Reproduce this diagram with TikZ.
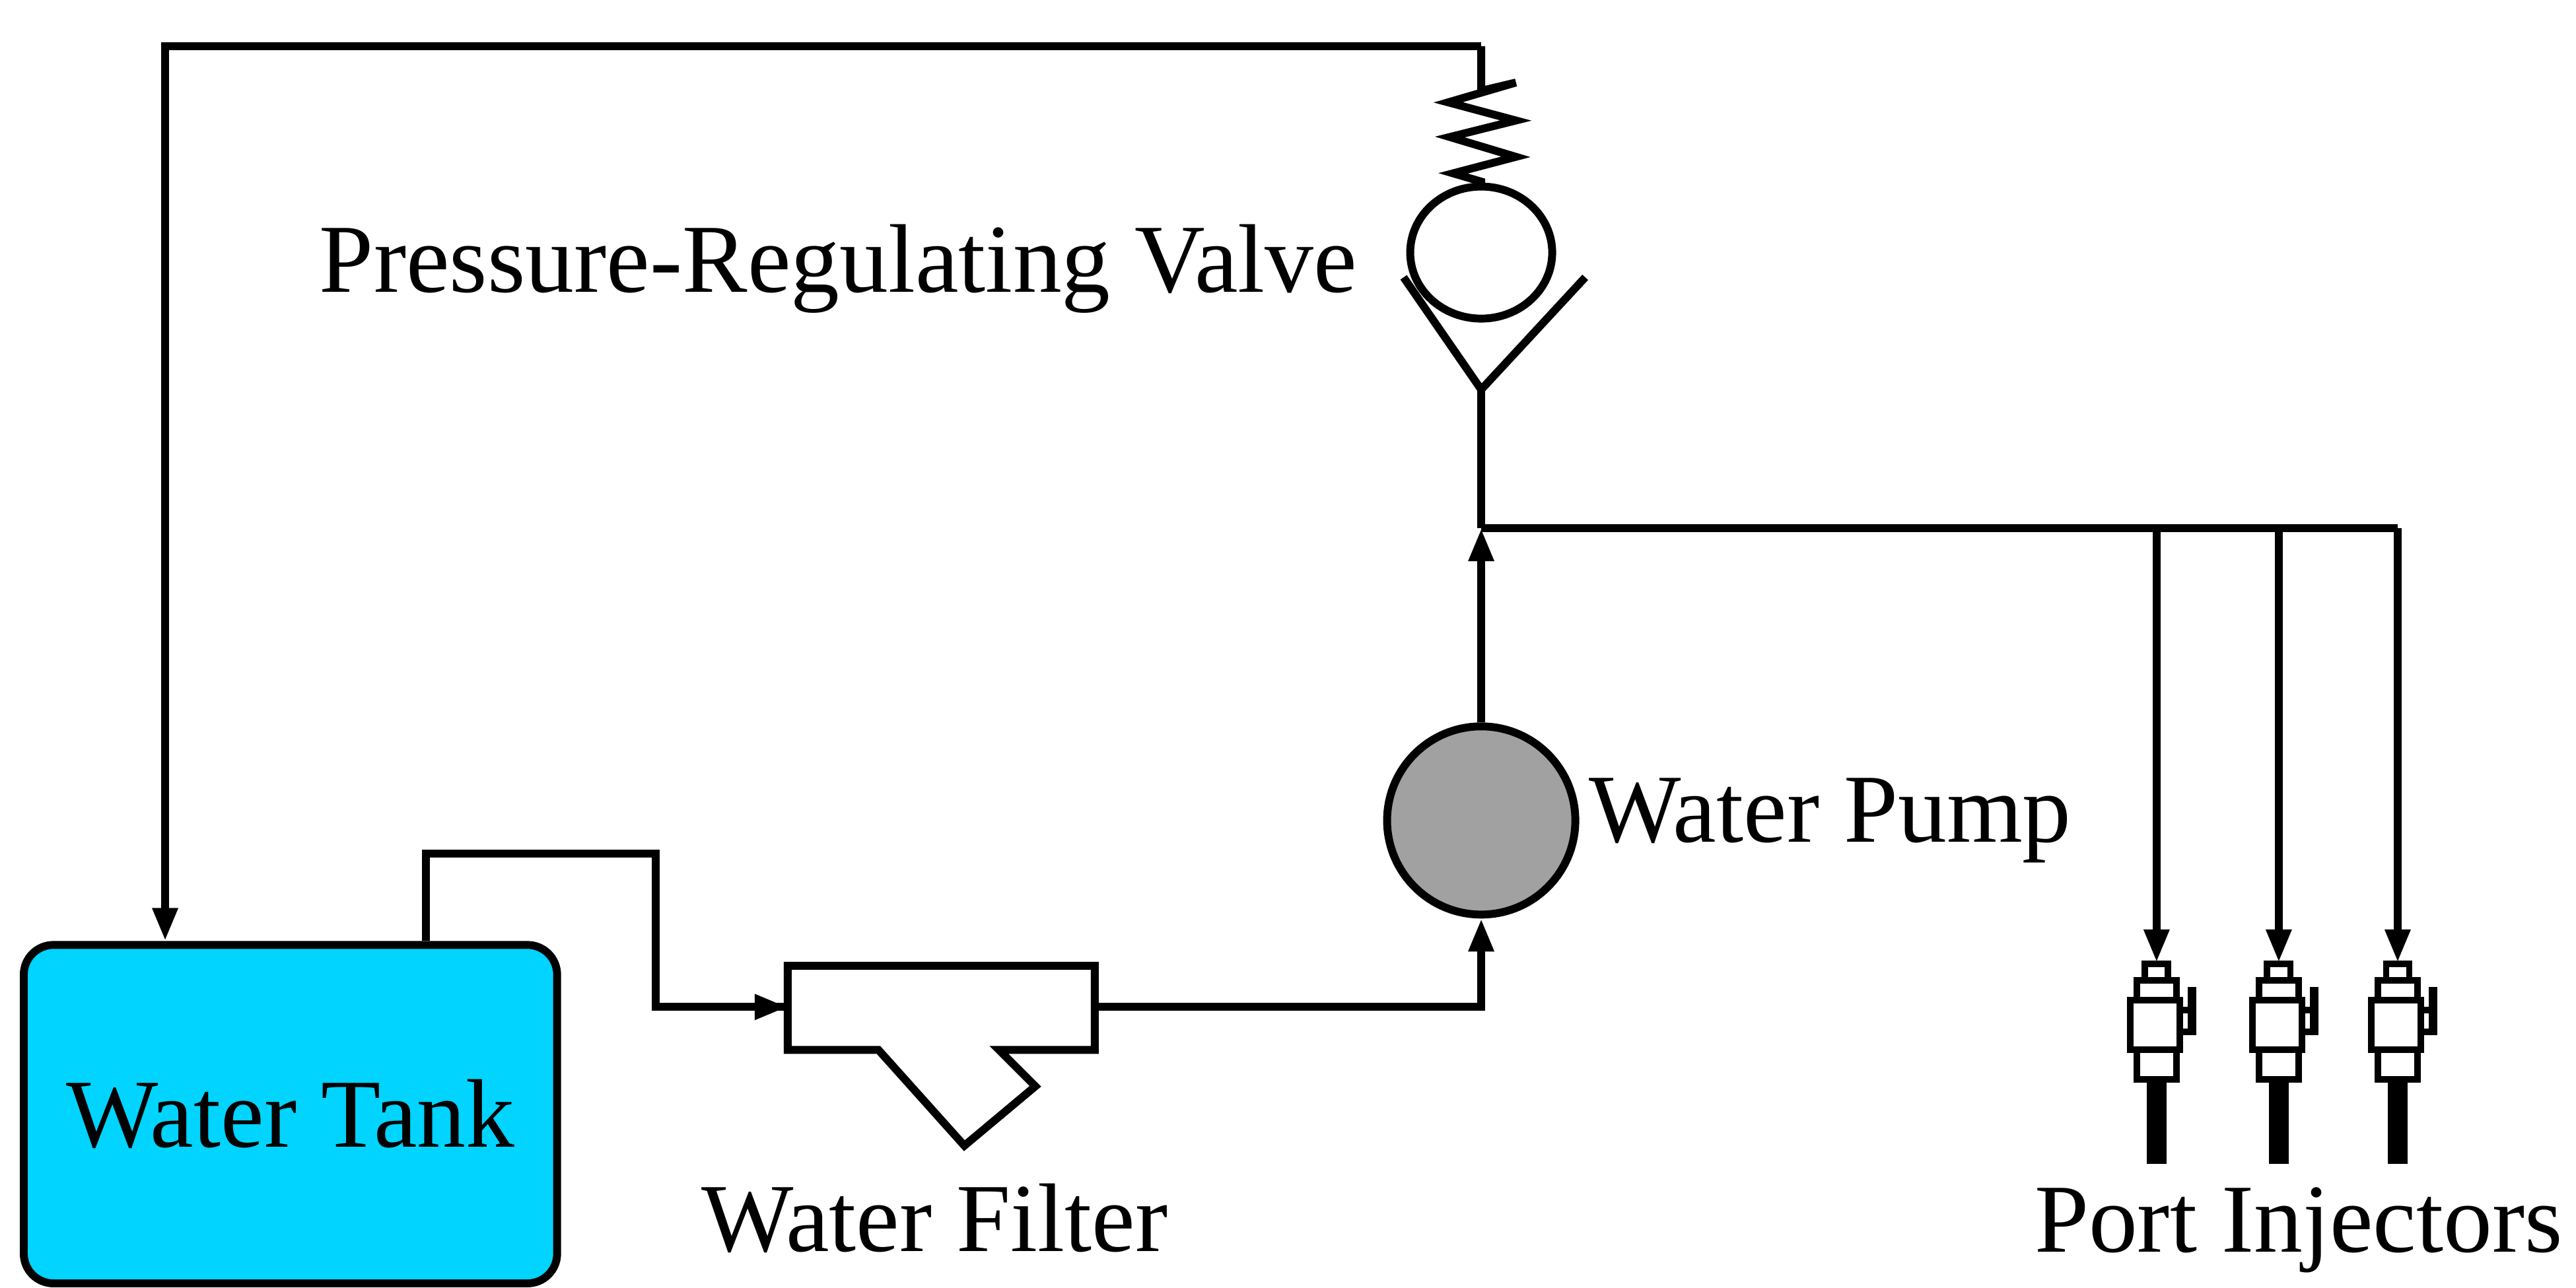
\documentclass[tikz,border=0pt]{standalone}
\usepackage{fontspec}
\setmainfont{Liberation Serif}
\usetikzlibrary{arrows.meta}
\definecolor{tankc}{RGB}{0,212,255}
\begin{document}
\begin{tikzpicture}[x=0.025cm,y=-0.025cm,
  pipe/.style={line width=3.4pt},
  flow/.style={pipe,-{Triangle[length=0.5cm,width=0.36cm]}},
  lbl/.style={font=\fontsize{42}{42}\selectfont,inner sep=0pt},
  inj/.style={line width=2.8pt,fill=white}]
\useasboundingbox (0,0) rectangle (1560,780);
% tank
\node[draw,line width=3.4pt,fill=tankc,rounded corners=0.45cm,minimum width=323*0.025cm,minimum height=205*0.025cm,anchor=north west,lbl] (tank) at (12,570) {Water Tank};
% filter
\coordinate (fin) at (477,610);
\coordinate (fout) at (663,610);
\draw[pipe,fill=white] (477,585) -- (663,585) -- (663,636) -- (605,636) -- (627,658) -- (584,694) -- (532,636) -- (477,636) -- cycle;
\node[lbl] (flbl) at (566,738) {Water Filter};
% pump
\node[draw,circle,line width=3.4pt,fill=black!37,minimum size=114*0.025cm,inner sep=0pt] (pump) at (897,497) {};
\node[lbl,anchor=west] (plbl) at (962,497) {Water Pump};
% valve
\coordinate (vtop) at (897,113);
\coordinate (vbot) at (897,236);
\draw[pipe] (897,153) ellipse [x radius=43,y radius=40];
\draw[pipe] (850,168) -- (897,236) -- (960,168);
\node[lbl,anchor=east] (vlbl) at (822,163) {Pressure-Regulating Valve};
\draw[pipe] (897,28) -- (897,55) -- (918,50) -- (877,62) -- (918,73) -- (878,83) -- (918,95) -- (880,105) -- (897,110) -- (vtop);
\coordinate (tl) at (100,28);
\coordinate (tr) at (897,28);
\coordinate (jn) at (897,320);
% pipes
\draw[flow] (tr) -- (tl) -- (tank.north west -| tl);
\draw[pipe] (258,570) -- (258,517) -- (397,517) -- (397,610) -- (fin);
\draw[flow] (397,610) -- (fin);
\draw[flow] (fout) -- (897,610) -- (pump.south);
\draw[flow] (pump.north) -- (jn);
\draw[pipe] (jn) -- (vbot);
\draw[pipe] (jn) -- (1452,320);
\foreach \x/\n in {1306/a,1380/b,1452/c}{
  \coordinate (i\n) at (\x,583);
  \draw[flow] (\x,320) -- (i\n);
  \begin{scope}[shift={(\x,0)}]
    \fill (-6,654) rectangle (6,705);
    \draw[inj] (-12,636) rectangle (12,654);
    \draw[inj] (14,612) -- (22,612) -- (22,599) -- (22,625) -- (14,625);
    \fill (19,598) rectangle (24,626);
    \draw[inj] (-16,606) rectangle (14,636);
    \draw[inj] (-12,594) rectangle (12,606);
    \draw[inj] (-7,584) rectangle (7,594);
  \end{scope}
}
\node[lbl] (ilbl) at (1392,745) {Port Injectors};
\end{tikzpicture}
\end{document}
